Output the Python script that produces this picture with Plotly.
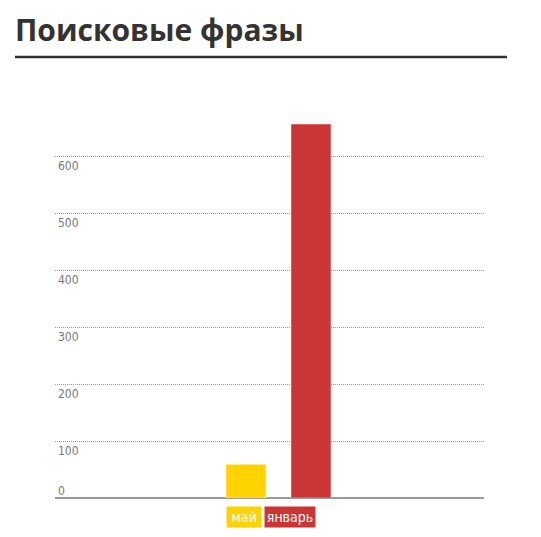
import plotly.graph_objects as go

categories = ["май", "январь"]
values = [59, 656]
bar_colors = ["#FFD200", "#CC3535"]
tick_values = [0, 100, 200, 300, 400, 500, 600]
tick_labels = ["0", "100", "200", "300", "400", "500", "600"]
title_text = "Поисковые фразы"

W, H = 541, 537
L, R, T, B = 55, 57, 100, 39
plot_h = H - T - B
plot_w = W - L - R
ppu = 0.57
ymax = plot_h / ppu


def px_x(p):
    return (p - L) / plot_w


def px_y(p):
    return (H - B - p) / plot_h


fig = go.Figure()
fig.add_trace(go.Bar(
    x=categories, y=values,
    marker=dict(color=bar_colors, line=dict(color="rgba(255,255,255,0.45)", width=1)),
    width=0.615, hoverinfo="skip", showlegend=False,
))

narrow = "Liberation Sans Narrow, DejaVu Sans Condensed, Roboto, sans-serif"

annotations = []
for v, t in zip(tick_values, tick_labels):
    annotations.append(dict(
        x=0, xref="paper", y=v, yref="y", text=t, showarrow=False,
        xanchor="left", yanchor="middle", xshift=1,
        yshift=(7 if v == 0 else -10),
        font=dict(family=narrow, size=12, color="#777"),
    ))

# legend-like labels under bars
legend_boxes = [(226, 34), (264, 50)]
for (px, w), c, t in zip(legend_boxes, bar_colors, categories):
    annotations.append(dict(
        x=px_x(px), xref="paper",
        y=px_y(506), yref="paper",
        xanchor="left", yanchor="top", text=t, showarrow=False,
        bgcolor=c, width=w, height=20, borderpad=0, align="center",
        font=dict(family=narrow, size=14, color="white"),
    ))

annotations.append(dict(
    x=px_x(13), xref="paper", y=px_y(29), yref="paper", xanchor="left", yanchor="middle",
    text="<b>" + title_text + "</b>", showarrow=False,
    font=dict(family="Open Sans, Noto Sans, sans-serif", size=30, color="#333"),
))

fig.update_layout(
    width=W, height=H,
    margin=dict(l=L, r=R, t=T, b=B),
    paper_bgcolor="white", plot_bgcolor="white",
    annotations=annotations,
    shapes=[dict(type="line", xref="paper", yref="paper",
                 x0=px_x(15), x1=px_x(507),
                 y0=px_y(57), y1=px_y(57),
                 line=dict(color="#333", width=2.5))],
    xaxis=dict(type="category", range=[-2.938, 3.662], showticklabels=False,
               showgrid=False, zeroline=False, showline=False, ticks="", fixedrange=True),
    yaxis=dict(range=[0, ymax], tickvals=tick_values[1:], showticklabels=False,
               showgrid=True, gridcolor="#999", griddash="1px,1px", gridwidth=1,
               zeroline=True, zerolinecolor="#999", zerolinewidth=1.5,
               showline=False, ticks="", fixedrange=True),
    bargap=0.385,
)

fig.write_html("out.html")
